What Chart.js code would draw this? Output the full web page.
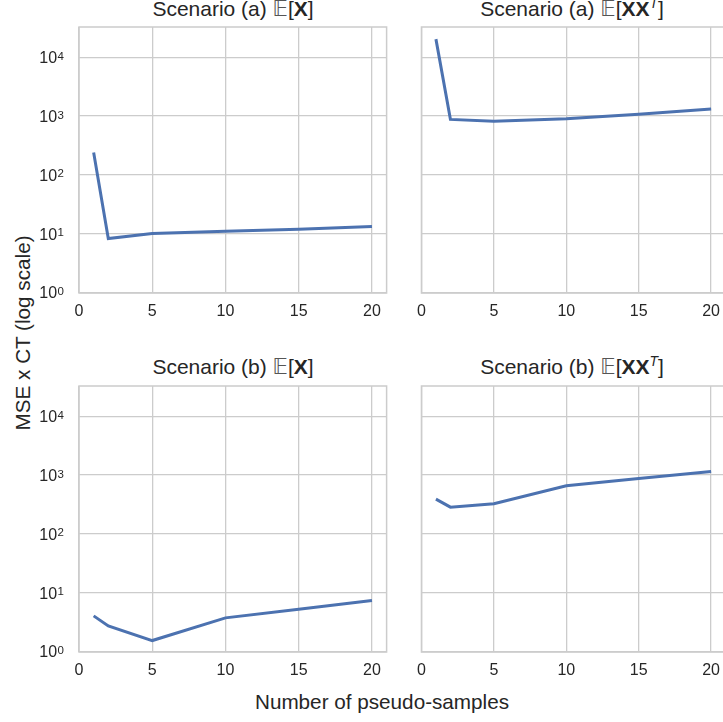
<!DOCTYPE html>
<html>
<head>
<meta charset="utf-8">
<script src="https://cdn.jsdelivr.net/npm/chart.js@4.4.0/dist/chart.umd.min.js"></script>
<style>
  body { margin:0; width:723px; height:722px; overflow:hidden; background:#fff; position:relative;
         font-family:"Liberation Sans", Arial, sans-serif; color:#262626; }
  canvas { position:absolute; }
  .ttl { position:absolute; font-size:21px; line-height:21px; white-space:nowrap; transform:translateX(-50%); }
  .bb { font-family:"DejaVu Sans", sans-serif; color:#555; }
  .ttl sup { font-size:0.66em; font-style:italic; vertical-align:0.55em; line-height:0; }
  #ylab { position:absolute; left:22px; top:333px; font-size:20.7px; line-height:21px; white-space:nowrap;
          transform:translate(-50%,-50%) rotate(-90deg); }
  #xlab { position:absolute; left:382px; top:691px; font-size:20.7px; line-height:21px; white-space:nowrap;
          transform:translateX(-50%); }
</style>
</head>
<body>
<div class="ttl" style="left:233px;top:-2px">Scenario (a) <span class="bb">𝔼</span>[<b>X</b>]</div>
<div class="ttl" style="left:572px;top:-2px">Scenario (a) <span class="bb">𝔼</span>[<b>XX</b><sup>T</sup>]</div>
<div class="ttl" style="left:233px;top:356px">Scenario (b) <span class="bb">𝔼</span>[<b>X</b>]</div>
<div class="ttl" style="left:572px;top:356px">Scenario (b) <span class="bb">𝔼</span>[<b>XX</b><sup>T</sup>]</div>
<div id="ylab">MSE x CT (log scale)</div>
<div id="xlab">Number of pseudo-samples</div>

<canvas id="c1" width="390" height="303" style="left:0px;top:20px"></canvas>
<canvas id="c2" width="321" height="303" style="left:408px;top:20px"></canvas>
<canvas id="c3" width="390" height="303" style="left:0px;top:379px"></canvas>
<canvas id="c4" width="321" height="303" style="left:408px;top:379px"></canvas>

<script>
// pseudo-samples on the x axis
const nSamples = [1, 2, 5, 10, 15, 20];

// MSE x CT
const scenAMean = [240, 8.2, 10, 10.9, 11.8, 13.2];
const scenACov  = [20500, 880, 820, 900, 1080, 1320];
const scenBMean = [4.0, 2.7, 1.52, 3.7, 5.2, 7.3];
const scenBCov  = [390, 285, 325, 660, 875, 1150];

const xTicks = [0, 5, 10, 15, 20];
const yTicks = [1, 10, 100, 1000, 10000];
const yTickBase = '10';
const yTickExp = ['0', '1', '2', '3', '4'];

const fontFam = '"Liberation Sans", Arial, sans-serif';
const gridColor = '#cccccc';
const textColor = '#262626';
const lineColor = '#4c72b0';

// all four spines, light grey like seaborn whitegrid
const framePlugin = {
    id: 'frame',
    beforeDatasetsDraw(chart) {
        const a = chart.chartArea, ctx = chart.ctx;
        ctx.save();
        ctx.strokeStyle = gridColor;
        ctx.lineWidth = 1.5;
        ctx.strokeRect(a.left, a.top, a.right - a.left, a.bottom - a.top);
        ctx.restore();
    }
};

// 10^n labels with a raised exponent
const powLabels = {
    id: 'powLabels',
    afterDraw(chart, args, opts) {
        if (!opts.show) return;
        const ctx = chart.ctx, ys = chart.scales.y;
        const right = chart.chartArea.left - 15;
        ctx.save();
        ctx.fillStyle = textColor;
        ctx.textBaseline = 'alphabetic';
        yTicks.forEach((v, i) => {
            const py = ys.getPixelForValue(v);
            ctx.font = '11.5px ' + fontFam;
            ctx.textAlign = 'right';
            ctx.fillText(yTickExp[i], right, py + 2.5);
            const w = ctx.measureText(yTickExp[i]).width;
            ctx.font = '16px ' + fontFam;
            ctx.fillText(yTickBase, right - w - 0.5, py + 6);
        });
        ctx.restore();
    }
};

function makeChart(id, values, showY) {
    const pts = nSamples.map((x, i) => ({ x: x, y: values[i] }));
    return new Chart(document.getElementById(id), {
        type: 'line',
        data: {
            datasets: [{
                data: pts,
                borderColor: lineColor,
                borderWidth: 3,
                pointRadius: 0,
                tension: 0,
                fill: false
            }]
        },
        options: {
            responsive: false,
            animation: false,
            layout: { padding: { top: 7, right: 3, left: showY ? 0 : 10, bottom: 0 } },
            plugins: {
                legend: { display: false },
                tooltip: { enabled: false },
                powLabels: { show: showY }
            },
            scales: {
                x: {
                    type: 'linear',
                    min: 0,
                    max: 21,
                    afterBuildTicks: s => { s.ticks = xTicks.map(v => ({ value: v })); },
                    afterFit: s => { s.height = 30; },
                    ticks: { font: { family: fontFam, size: 16 }, color: textColor, padding: 9,
                             maxRotation: 0, autoSkip: false },
                    grid: { color: gridColor, lineWidth: 1.3, drawTicks: false },
                    border: { display: false }
                },
                y: {
                    type: 'logarithmic',
                    min: 0.97,
                    max: 33000,
                    afterBuildTicks: s => { s.ticks = yTicks.map(v => ({ value: v })); },
                    afterFit: s => { s.width = showY ? 79 : 0; },
                    ticks: { display: false },
                    grid: { color: gridColor, lineWidth: 1.3, drawTicks: false },
                    border: { display: false }
                }
            }
        },
        plugins: [framePlugin, powLabels]
    });
}

makeChart('c1', scenAMean, true);
makeChart('c2', scenACov, false);
makeChart('c3', scenBMean, true);
makeChart('c4', scenBCov, false);
</script>
</body>
</html>
